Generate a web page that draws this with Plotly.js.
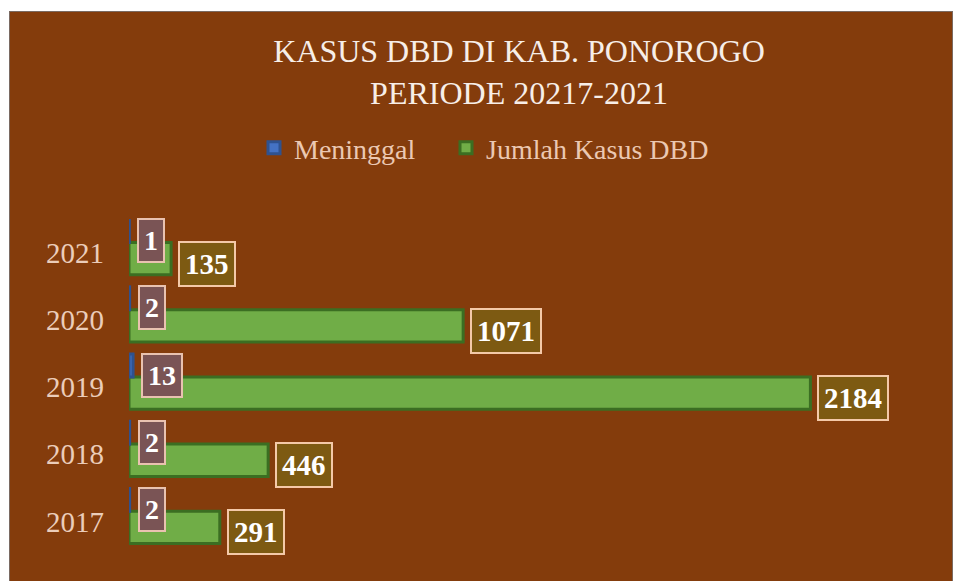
<!DOCTYPE html>
<html>
<head>
<meta charset="utf-8">
<script src="https://cdn.plot.ly/plotly-3.0.1.min.js"></script>
<style>
html, body { margin:0; padding:0; background:#ffffff; overflow:hidden; }
#chart { position:absolute; left:9px; top:11px; width:944px; height:572px; box-sizing:border-box; border:1px solid #7a6a62; }
</style>
</head>
<body>
<div id="chart"></div>
<script>
// ---- data ----
var categories = ['2017', '2018', '2019', '2020', '2021'];
var meninggal  = [2, 2, 13, 2, 1];
var kasusDBD   = [291, 446, 2184, 1071, 135];
var seriesNames = ['Meninggal', 'Jumlah Kasus DBD'];
var titleLines = ['KASUS DBD DI KAB. PONOROGO', 'PERIODE 20217-2021'];

var serif = '"Times New Roman", "Liberation Serif", serif';

var traceKasus = {
  type: 'bar', orientation: 'h', name: seriesNames[1],
  x: kasusDBD, y: categories,
  offset: -0.33, width: 0.48,
  marker: { color: '#70AD47', line: { color: '#3B6E22', width: 3 } },
  legend: 'legend2', hoverinfo: 'skip'
};
var traceMeninggal = {
  type: 'bar', orientation: 'h', name: seriesNames[0],
  x: meninggal, y: categories,
  offset: 0.15, width: 0.34,
  marker: { color: '#4472C4', line: { color: '#2F528F', width: 3 } },
  legend: 'legend', hoverinfo: 'skip'
};

// annotations on a category axis take the category index
var annotations = [];
categories.forEach(function (c, i) {
  annotations.push({
    x: kasusDBD[i], y: i, xref: 'x', yref: 'y',
    text: String(kasusDBD[i]), showarrow: false,
    xanchor: 'left', yanchor: 'middle', xshift: 7, yshift: -11,
    font: { family: serif, size: 29, color: '#ffffff', weight: 'bold' },
    bgcolor: '#7D5A12', bordercolor: '#F4C9A8', borderwidth: 2, borderpad: 5
  });
  annotations.push({
    x: meninggal[i], y: i, xref: 'x', yref: 'y',
    text: String(meninggal[i]), showarrow: false,
    xanchor: 'left', yanchor: 'middle', xshift: 8, yshift: 12,
    font: { family: serif, size: 28, color: '#ffffff', weight: 'bold' },
    bgcolor: '#7A5455', bordercolor: '#E9C2B0', borderwidth: 2, borderpad: 5
  });
});

var legendCommon = {
  orientation: 'h', xref: 'container', xanchor: 'left',
  yref: 'container', yanchor: 'middle', y: 1 - 136 / 570,
  font: { family: serif, size: 28, color: '#EBC8B2' },
  bgcolor: 'rgba(0,0,0,0)', itemwidth: 30
};

var layout = {
  width: 942, height: 570,
  paper_bgcolor: '#843C0C', plot_bgcolor: '#843C0C',
  margin: { l: 119, r: 43, t: 207, b: 27 },
  title: {
    text: titleLines.join('<br>'),
    font: { family: serif, size: 32, color: '#F7EEE8' },
    x: 0.5, xref: 'paper', y: 1 - 50 / 570, yref: 'container', yanchor: 'middle'
  },
  showlegend: true,
  legend: Object.assign({}, legendCommon, { x: 244 / 942 }),
  legend2: Object.assign({}, legendCommon, { x: 436 / 942 }),
  barmode: 'overlay',
  xaxis: {
    range: [0, 2500], showgrid: false, zeroline: false, showline: false,
    showticklabels: false, ticks: ''
  },
  yaxis: {
    type: 'category', categoryorder: 'array', categoryarray: categories,
    range: [-0.5, 4.5], showgrid: false, zeroline: false, showline: false,
    ticks: '', ticklabelstandoff: 24,
    tickfont: { family: serif, size: 29, color: '#EBCDBA' }
  },
  annotations: annotations
};

Plotly.newPlot('chart', [traceKasus, traceMeninggal], layout, { displayModeBar: false, staticPlot: true });
</script>
</body>
</html>
